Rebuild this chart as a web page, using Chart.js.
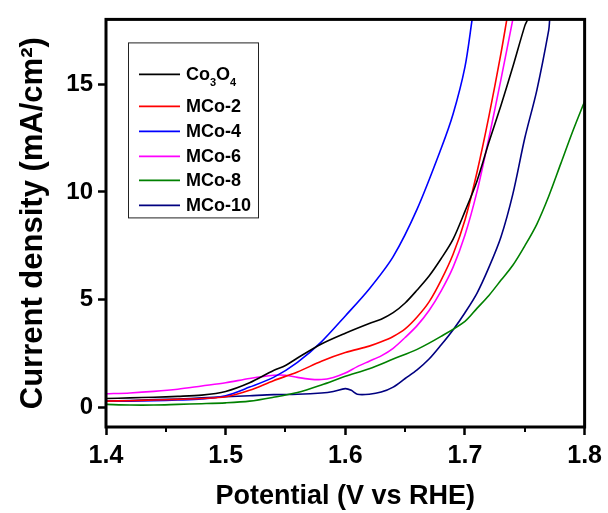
<!DOCTYPE html>
<html>
<head>
<meta charset="utf-8">
<script src="https://cdn.jsdelivr.net/npm/chart.js@4.4.0/dist/chart.umd.min.js"></script>
<style>
  html, body { margin: 0; padding: 0; background: #fff; }
  #wrap { width: 608px; height: 513px; }
</style>
</head>
<body>
<div id="wrap"><canvas id="lsvChart" width="608" height="513"></canvas></div>
<script>
// Axis ticks
const xTicks = [1.4, 1.5, 1.6, 1.7, 1.8];
const xMinorTicks = [1.45, 1.55, 1.65, 1.75];
const yTicks = [0, 5, 10, 15];

// Series names (underscore marks a subscript digit)
const seriesNames = ['Co_3O_4', 'MCo-2', 'MCo-4', 'MCo-6', 'MCo-8', 'MCo-10'];
const seriesColors = ['#000000', '#ff0000', '#0000ff', '#ff00ff', '#008000', '#000080'];

// Co3O4
const co3o4V = [1.40, 1.42, 1.44, 1.46, 1.48, 1.50, 1.52, 1.54, 1.55, 1.56, 1.58, 1.60, 1.62, 1.63, 1.64, 1.65, 1.66, 1.67, 1.68, 1.69, 1.70, 1.71, 1.72, 1.73, 1.74, 1.75, 1.7525];
const co3o4J = [0.42, 0.45, 0.48, 0.52, 0.58, 0.75, 1.15, 1.72, 1.95, 2.30, 2.95, 3.45, 3.90, 4.10, 4.40, 4.85, 5.45, 6.10, 6.90, 7.80, 9.10, 10.5, 12.3, 14.0, 15.8, 17.7, 18.0];

// MCo-2
const mco2V = [1.40, 1.42, 1.44, 1.46, 1.48, 1.50, 1.52, 1.54, 1.56, 1.58, 1.60, 1.62, 1.63, 1.64, 1.65, 1.66, 1.67, 1.68, 1.69, 1.70, 1.71, 1.72, 1.73, 1.735];
const mco2J = [0.30, 0.32, 0.35, 0.38, 0.42, 0.50, 0.80, 1.25, 1.65, 2.15, 2.55, 2.85, 3.05, 3.30, 3.65, 4.20, 4.90, 5.90, 7.10, 8.70, 10.9, 13.5, 16.4, 18.0];

// MCo-4
const mco4V = [1.40, 1.42, 1.44, 1.46, 1.48, 1.50, 1.52, 1.54, 1.56, 1.58, 1.60, 1.62, 1.64, 1.66, 1.68, 1.69, 1.70, 1.706];
const mco4J = [0.30, 0.30, 0.32, 0.35, 0.40, 0.55, 0.95, 1.40, 2.10, 3.05, 4.25, 5.50, 7.00, 9.20, 12.0, 13.6, 15.8, 18.0];

// MCo-6
const mco6V = [1.40, 1.42, 1.44, 1.46, 1.48, 1.50, 1.52, 1.54, 1.55, 1.56, 1.57, 1.58, 1.59, 1.60, 1.61, 1.62, 1.63, 1.64, 1.65, 1.66, 1.67, 1.68, 1.69, 1.70, 1.71, 1.72, 1.73, 1.74];
const mco6J = [0.64, 0.68, 0.75, 0.85, 1.00, 1.15, 1.35, 1.50, 1.50, 1.40, 1.32, 1.30, 1.40, 1.60, 1.90, 2.15, 2.40, 2.75, 3.25, 3.80, 4.50, 5.40, 6.50, 8.00, 10.0, 12.5, 15.2, 18.0];

// MCo-8
const mco8V = [1.40, 1.42, 1.44, 1.46, 1.48, 1.50, 1.52, 1.54, 1.56, 1.58, 1.60, 1.62, 1.64, 1.66, 1.68, 1.70, 1.71, 1.72, 1.73, 1.74, 1.75, 1.76, 1.77, 1.78, 1.79, 1.80];
const mco8J = [0.15, 0.12, 0.12, 0.15, 0.18, 0.22, 0.30, 0.48, 0.70, 1.05, 1.45, 1.80, 2.25, 2.70, 3.30, 4.00, 4.60, 5.20, 5.90, 6.60, 7.50, 8.50, 9.80, 11.3, 12.8, 14.2];

// MCo-10
const mco10V = [1.40, 1.42, 1.44, 1.46, 1.48, 1.50, 1.52, 1.54, 1.56, 1.58, 1.59, 1.60, 1.605, 1.61, 1.62, 1.63, 1.64, 1.65, 1.66, 1.67, 1.68, 1.69, 1.70, 1.71, 1.72, 1.73, 1.74, 1.75, 1.76, 1.77, 1.7708];
const mco10J = [0.30, 0.33, 0.37, 0.40, 0.45, 0.50, 0.55, 0.60, 0.62, 0.68, 0.75, 0.88, 0.80, 0.62, 0.62, 0.72, 0.95, 1.35, 1.75, 2.25, 2.90, 3.60, 4.40, 5.30, 6.50, 7.90, 9.90, 12.5, 14.7, 17.5, 18.0];

const seriesV = [co3o4V, mco2V, mco4V, mco6V, mco8V, mco10V];
const seriesJ = [co3o4J, mco2J, mco4J, mco6J, mco8J, mco10J];

// Build points from V / J arrays
function toPoints(vs, js) {
  return vs.map((v, i) => ({ x: v, y: js[i] }));
}

const FONT = '"Liberation Sans", Arial, sans-serif';

// Draw text with "_d" parts as subscripts
function drawMarkup(ctx, text, x, y) {
  const parts = text.split(/(_\d)/).filter(p => p.length);
  let cx = x;
  parts.forEach(p => {
    if (p[0] === '_') {
      ctx.font = 'bold 11px ' + FONT;
      ctx.fillText(p.slice(1), cx, y + 8);
      cx += ctx.measureText(p.slice(1)).width;
    } else {
      ctx.font = 'bold 18px ' + FONT;
      ctx.fillText(p, cx, y);
      cx += ctx.measureText(p).width;
    }
  });
}

// Frame, minor ticks and the boxed legend
const framePlugin = {
  id: 'frameAndLegend',
  afterDraw(chart) {
    const ctx = chart.ctx;
    const area = chart.chartArea;
    const xScale = chart.scales.x;

    ctx.save();
    // minor ticks on the bottom axis
    ctx.strokeStyle = '#000';
    ctx.lineWidth = 2;
    xMinorTicks.forEach(v => {
      const px = Math.round(xScale.getPixelForValue(v));
      ctx.beginPath();
      ctx.moveTo(px, area.bottom);
      ctx.lineTo(px, area.bottom + 5);
      ctx.stroke();
    });

    // plot frame
    ctx.lineWidth = 3;
    ctx.strokeRect(area.left, area.top, area.right - area.left, area.bottom - area.top);

    // legend box
    const box = { left: area.left + 22, top: area.top + 23, width: 130, height: 175 };
    ctx.fillStyle = '#fff';
    ctx.fillRect(box.left, box.top, box.width, box.height);
    ctx.lineWidth = 1;
    ctx.strokeStyle = '#222';
    ctx.strokeRect(box.left + 0.5, box.top + 0.5, box.width, box.height);

    const rowY = [55, 87, 112, 137, 161, 186];
    chart.data.datasets.forEach((ds, i) => {
      const y = area.top + rowY[i];
      ctx.strokeStyle = ds.borderColor;
      ctx.lineWidth = 1.6;
      ctx.beginPath();
      ctx.moveTo(box.left + 11, y);
      ctx.lineTo(box.left + 52, y);
      ctx.stroke();
      ctx.fillStyle = '#000';
      ctx.textBaseline = 'middle';
      ctx.textAlign = 'left';
      drawMarkup(ctx, ds.legendText, box.left + 58, y + 1);
    });
    ctx.restore();
  }
};

const datasets = seriesNames.map((name, i) => ({
  label: name.replace(/_/g, ''),
  legendText: name,
  data: toPoints(seriesV[i], seriesJ[i]),
  borderColor: seriesColors[i],
  backgroundColor: seriesColors[i],
  borderWidth: 1.6,
  pointRadius: 0,
  showLine: true,
  tension: 0.3,
  fill: false
}));

const config = {
  type: 'scatter',
  data: { datasets: datasets },
  options: {
    responsive: false,
    animation: false,
    devicePixelRatio: 1,
    layout: { padding: { top: 14, right: 21, left: 0, bottom: 0 } },
    plugins: {
      legend: { display: false },
      tooltip: { enabled: false }
    },
    scales: {
      x: {
        type: 'linear',
        min: 1.4,
        max: 1.8,
        afterFit: function (scale) { scale.height = 86; },
        afterBuildTicks: function (scale) {
          scale.ticks = xTicks.map(v => ({ value: v }));
        },
        border: { display: false },
        grid: {
          drawOnChartArea: false,
          drawTicks: true,
          tickLength: 8,
          tickWidth: 2.5,
          tickColor: '#000'
        },
        ticks: {
          color: '#000',
          padding: 6,
          maxRotation: 0,
          font: { family: FONT, size: 25, weight: 'bold' },
          callback: function (value) { return value.toFixed(1); }
        },
        title: {
          display: true,
          text: 'Potential (V vs RHE)',
          color: '#000',
          padding: { top: 0, bottom: 0 },
          font: { family: FONT, size: 27, weight: 'bold' }
        }
      },
      y: {
        type: 'linear',
        min: -0.9,
        max: 18,
        afterFit: function (scale) { scale.width = 106; },
        afterBuildTicks: function (scale) {
          scale.ticks = yTicks.map(v => ({ value: v }));
        },
        border: { display: false },
        grid: {
          drawOnChartArea: false,
          drawTicks: true,
          tickLength: 8,
          tickWidth: 2.5,
          tickColor: '#000'
        },
        ticks: {
          color: '#000',
          padding: 5,
          font: { family: FONT, size: 24, weight: 'bold' },
          callback: function (value) { return String(value); }
        },
        title: {
          display: true,
          text: 'Current density (mA/cm²)',
          color: '#000',
          padding: { top: 15, bottom: 0 },
          font: { family: FONT, size: 31, weight: 'bold' }
        }
      }
    }
  },
  plugins: [framePlugin]
};

window.lsvChart = new Chart(document.getElementById('lsvChart').getContext('2d'), config);
</script>
</body>
</html>
